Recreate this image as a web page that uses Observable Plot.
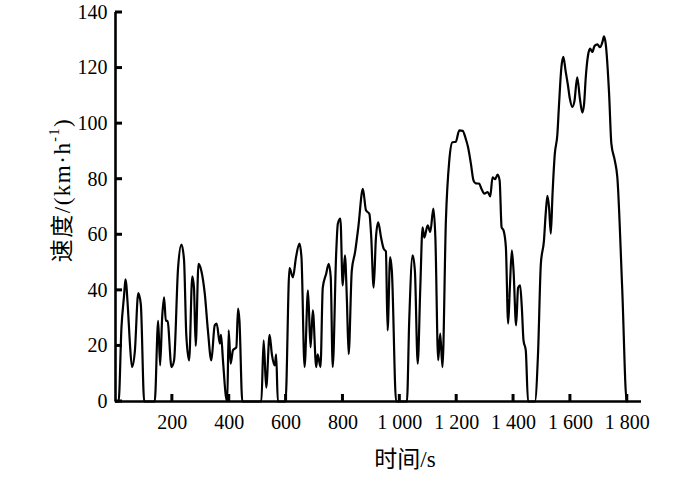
<!DOCTYPE html>
<html><head><meta charset="utf-8">
<script src="https://cdn.jsdelivr.net/npm/d3@7"></script>
<script src="https://cdn.jsdelivr.net/npm/@observablehq/plot@0.6"></script>
<style>body{margin:0;background:#fff}</style>
</head><body><div id="chart"></div>
<script>
const time = [0,11,21,30,35,44,50,58,68,80,89,101,138,150,157,164,171,177,183,197,206,220,232,241,249,259,270,276,282,292,302,314,325,337,349,356,367,371,378,388,393,398,405,413,425,431,436,446,513,521,530,542,550,560,565,571,598,612,624,635,647,654,665,677,686,694,706,711,721,729,741,750,757,764,776,782,791,799,807,814,820,831,843,854,870,881,893,899,908,916,924,934,943,951,957,966,972,987,1025,1033,1045,1053,1063,1072,1080,1086,1098,1107,1118,1125,1135,1142,1150,1162,1174,1185,1197,1209,1221,1232,1240,1250,1259,1267,1279,1287,1297,1309,1318,1326,1335,1344,1351,1358,1365,1373,1381,1387,1394,1400,1409,1416,1423,1429,1435,1443,1451,1475,1486,1496,1507,1513,1519,1525,1531,1537,1545,1554,1560,1568,1575,1583,1591,1598,1607,1614,1624,1633,1642,1648,1654,1662,1669,1677,1685,1695,1704,1713,1718,1724,1736,1744,1756,1765,1782,1798,1800];
const speed = [0,0,26.7,38,44,33,22,12.4,18,39,35,0,0,29,13,30,37.5,29,29,12.4,14.8,48,56.5,51,24,14.8,45,41,20,49.5,47,38.8,25.6,14.8,27.4,28,20.8,24,14.8,2,0,25.6,13.6,18.4,19.5,33.4,29,0,0,22,5,24,17,13,17,0,0,48,44.7,52,56.8,52,12.4,40,19.5,32.8,12.4,17,12.4,41,46,49.5,44.7,12.4,53,64,65.8,41.8,52.6,36,17,47,54,62.7,76.5,68.8,67.5,60,41,59,64.5,59,55,54,25.6,52,47,0,0,29,52.6,47,13.6,41,62.7,59,63.4,61,69.4,59,14.8,24.4,12.4,65,86.8,93.3,93.5,97.6,97.4,94.5,91.5,85.6,79.6,78.5,78.4,76.6,74.8,75.4,73.8,80.7,80,81.7,79.6,62.7,61.5,55.5,28,41,54.4,47,27.4,41,41.8,34,22,18.4,0,0,17,49.5,58,67.5,74,69.7,60.4,74.5,89,96,107,120,124,119,114,109,106,108,116.7,109.3,104,107,116.7,124.6,127,125.8,128,128.5,127.5,129.5,131.4,128.8,110.8,92.8,86.8,80.7,41,0,0];
const xTicks = [200,400,600,800,1000,1200,1400,1600,1800];
const yTicks = [0,20,40,60,80,100,120,140];
const xTitle = "时间/s";
const yTitleMain = "速度/(km·h";
const yTitleSup = "-1";
const yTitleEnd = ")";

const data = time.map((t, i) => ({t, v: speed[i]}));
const fmt = d => d >= 1000 ? String(d).replace(/^(\d)(\d{3})$/, "$1 $2") : String(d);

const tick = 7;
const chart = Plot.plot({
  width: 700, height: 477,
  marginLeft: 115, marginRight: 59, marginTop: 12, marginBottom: 76,
  style: {fontFamily: "'Liberation Serif', 'Noto Sans CJK SC', serif", fontSize: "20px", color: "#000", background: "#fff"},
  x: {domain: [0, 1850], label: null},
  y: {domain: [0, 140], label: null},
  marks: [
    Plot.axisX({ticks: xTicks, tickFormat: fmt, tickSize: 0, tickPadding: 13, fontSize: 20, label: null}),
    Plot.axisY({ticks: yTicks, tickSize: 0, tickPadding: 8, fontSize: 20, label: null}),
    Plot.ruleX([0], {strokeWidth: 2.6}),
    Plot.ruleY([0], {strokeWidth: 2.6}),
    Plot.line(data, {x: "t", y: "v", stroke: "#000", strokeWidth: 2.2, strokeLinejoin: "round", curve: "monotone-x"})
  ]
});
document.getElementById("chart").appendChild(chart);

const svg = d3.select(chart);
const sx = chart.scale("x"), sy = chart.scale("y");
const x0 = sx.apply(0), y0 = sy.apply(0);
const tg = svg.append("g").attr("stroke", "#000").attr("stroke-width", 3);
tg.selectAll(".xt").data(xTicks).join("line")
  .attr("x1", d => sx.apply(d)).attr("x2", d => sx.apply(d))
  .attr("y1", y0).attr("y2", y0 - tick);
tg.selectAll(".yt").data(yTicks).join("line")
  .attr("y1", d => sy.apply(d)).attr("y2", d => sy.apply(d))
  .attr("x1", x0).attr("x2", x0 + tick);

svg.append("text")
  .attr("x", 405).attr("y", 467)
  .attr("text-anchor", "middle")
  .attr("font-size", 23)
  .attr("font-family", "'Liberation Serif', 'Noto Sans CJK SC', serif")
  .attr("fill", "#000")
  .text(xTitle);
const yt = svg.append("text")
  .attr("transform", "translate(62,190) rotate(-90)")
  .attr("text-anchor", "middle")
  .attr("dominant-baseline", "central")
  .attr("font-size", 23)
  .attr("letter-spacing", 1.5)
  .attr("font-family", "'Liberation Serif', 'Noto Sans CJK SC', serif")
  .attr("fill", "#000");
yt.append("tspan").text(yTitleMain);
yt.append("tspan").attr("dy", -8).attr("font-size", 14).text(yTitleSup);
yt.append("tspan").attr("dy", 8).text(yTitleEnd);
</script>
</body></html>
